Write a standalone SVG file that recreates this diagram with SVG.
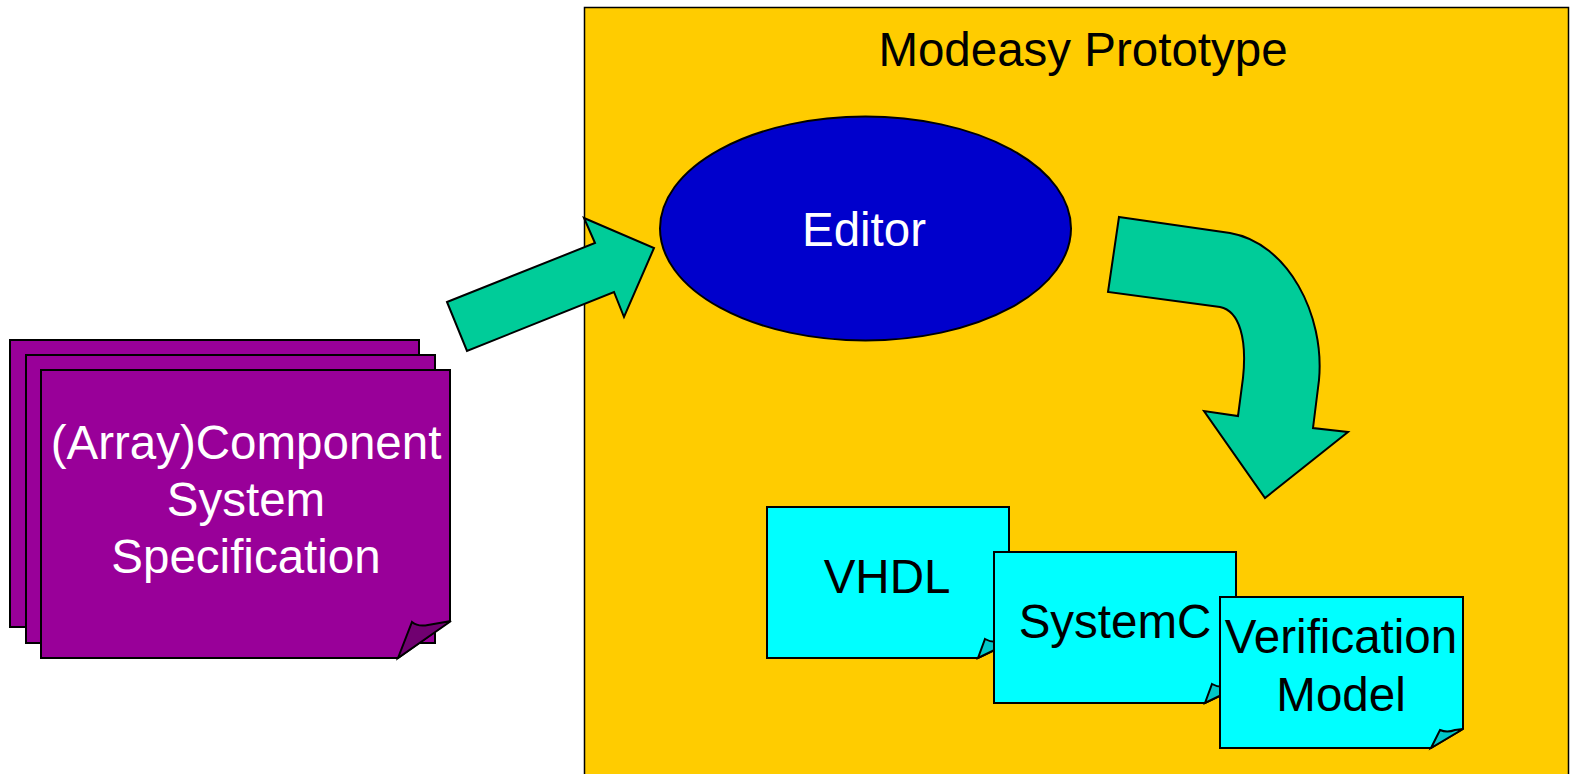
<svg xmlns="http://www.w3.org/2000/svg" width="1572" height="774" viewBox="0 0 1572 774">
  <style>
    .lbl { font-family: "Liberation Sans", Arial, sans-serif; font-size: 47.5px; text-anchor: middle; }
    .ln { stroke: #000; stroke-width: 2; stroke-linejoin: miter; }
    .spec { fill: #990099; }
    .specfold { fill: #700070; }
    .doc { fill: #00FFFF; }
    .docfold { fill: #00C8C8; }
    .flow { fill: #00CC99; }
  </style>
  <rect width="1572" height="774" fill="#fff"/>

  <!-- prototype frame -->
  <g id="prototype">
    <rect x="584.5" y="7.5" width="984" height="780" fill="#FFCC00" stroke="#000" stroke-width="1.5"/>
    <text class="lbl" x="1083" y="66" fill="#000">Modeasy Prototype</text>
  </g>

  <!-- stacked specification sheets -->
  <g id="specification">
    <rect class="spec ln" x="10" y="340" width="409" height="287"/>
    <rect class="spec ln" x="26" y="355" width="409" height="288"/>
    <path class="spec ln" d="M41,370 L450,370 L450,621 L398,658 L41,658 Z"/>
    <path class="specfold ln" d="M398,658 L412,622 Q418,627 428,625 L451,621 Z"/>
    <text class="lbl" x="246" y="459" fill="#fff">(Array)Component</text>
    <text class="lbl" x="246" y="516" fill="#fff">System</text>
    <text class="lbl" x="246" y="573" fill="#fff">Specification</text>
  </g>

  <g id="editor">
    <ellipse cx="865.5" cy="228.5" rx="205.5" ry="112" fill="#0000CC" stroke="#000" stroke-width="2"/>
    <text class="lbl" x="864" y="246" fill="#fff">Editor</text>
  </g>

  <!-- generated outputs -->
  <g id="vhdl">
    <path class="doc ln" d="M767,507 L1009,507 L1009,643 L978,658 L767,658 Z"/>
    <path class="docfold ln" d="M978,658 L985,639 Q992,643 1000,641 L1009,643 Z"/>
    <text class="lbl" x="887" y="593" fill="#000">VHDL</text>
  </g>
  <g id="systemc">
    <path class="doc ln" d="M994,552 L1236,552 L1236,688 L1205,703 L994,703 Z"/>
    <path class="docfold ln" d="M1205,703 L1212,684 Q1219,688 1227,686 L1236,688 Z"/>
    <text class="lbl" x="1115" y="638" fill="#000">SystemC</text>
  </g>
  <g id="verification">
    <path class="doc ln" d="M1220,597 L1463,597 L1463,729 L1431,748 L1220,748 Z"/>
    <path class="docfold ln" d="M1431,748 L1440,730 Q1447,733 1455,730 L1463,729 Z"/>
    <text class="lbl" x="1341" y="653" fill="#000">Verification</text>
    <text class="lbl" x="1341" y="711" fill="#000">Model</text>
  </g>

  <!-- block arrows -->
  <g id="connectors">
    <polygon class="flow ln" points="447,302 595,243 584,218 654,248 624,317 614,292 467,351"/>
    <path class="flow ln" d="M1119,217 L1230,233 C1288,243 1325,315 1319,380 L1313,428 L1348,432 L1265,498 L1204,411 L1238,416 L1243,378 C1247,340 1240,311 1220,307 L1108,292 Z"/>
  </g>
</svg>
